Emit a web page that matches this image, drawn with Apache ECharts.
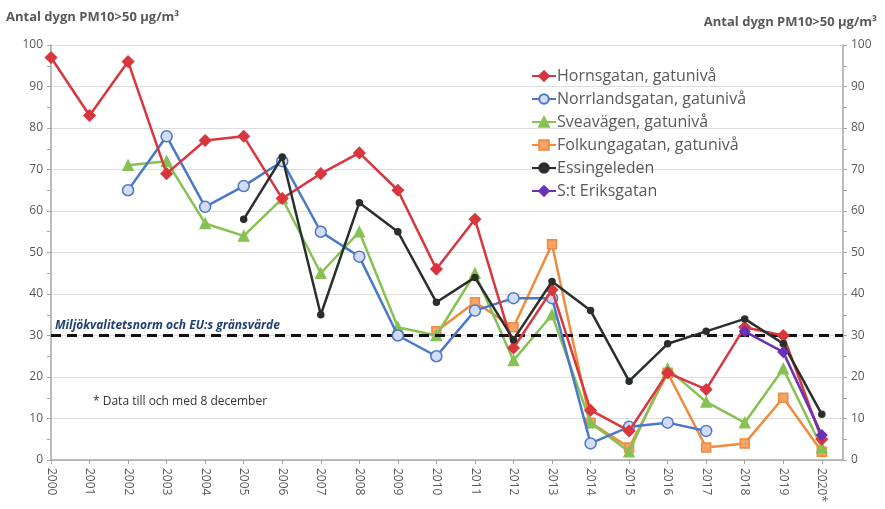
<!DOCTYPE html>
<html>
<head>
    <meta charset="utf-8">
    <title>PM10</title>
    <script src="https://cdn.jsdelivr.net/npm/echarts@6/dist/echarts.min.js"></script>
</head>
<body style="margin:0;background:#fff">
    <div id="main" style="width:885px;height:509px;"></div>
    <script type="text/javascript">
        // år och värden (antal dygn PM10 > 50)
        var years = [2000, 2001, 2002, 2003, 2004, 2005, 2006, 2007, 2008, 2009, 2010,
                     2011, 2012, 2013, 2014, 2015, 2016, 2017, 2018, 2019, 2020];
        var yearLabels = ['2000', '2001', '2002', '2003', '2004', '2005', '2006', '2007', '2008', '2009', '2010',
                          '2011', '2012', '2013', '2014', '2015', '2016', '2017', '2018', '2019', '2020*'];
        var hornsgatan = [97, 83, 96, 69, 77, 78, 63, 69, 74, 65, 46, 58, 27, 41, 12, 7, 21, 17, 32, 30, 5];
        var norrlandsgatan = [null, null, 65, 78, 61, 66, 72, 55, 49, 30, 25, 36, 39, 39, 4, 8, 9, 7, null, null, null];
        var sveavagen = [null, null, 71, 72, 57, 54, 63, 45, 55, 32, 30, 45, 24, 35, 9, 2, 22, 14, 9, 22, 3];
        var folkungagatan = [null, null, null, null, null, null, null, null, null, null, 31, 38, 32, 52, 9, 3, 21, 3, 4, 15, 2];
        var essingeleden = [null, null, null, null, null, 58, 73, 35, 62, 55, 38, 44, 29, 43, 36, 19, 28, 31, 34, 28, 11];
        var stEriksgatan = [null, null, null, null, null, null, null, null, null, null, null, null, null, null, null, null, null, null, 31, 26, 6];
        var grans = 30;

        function pairs(arr) {
            var out = [];
            for (var i = 0; i < years.length; i++) {
                if (arr[i] !== null) out.push([years[i], arr[i]]);
            }
            return out;
        }

        var myChart = echarts.init(document.getElementById('main'));
        var grey = '#595959';
        var yAxisBase = {
            type: 'value', min: 0, max: 100, interval: 10,
            axisLine: { show: true, lineStyle: { color: '#a6a6a6', width: 1.5 } },
            axisTick: { show: true, length: 4, lineStyle: { color: '#a6a6a6' } },
            minorTick: { show: true, splitNumber: 2, length: 4, lineStyle: { color: '#a6a6a6' } },
            axisLabel: { color: grey, fontSize: 12, fontFamily: 'Open Sans' }
        };
        function line(name, data, color, symbol, size, fill, z) {
            return {
                name: name, type: 'line', data: pairs(data), z: z,
                symbol: symbol, symbolSize: size,
                lineStyle: { color: color, width: 2.5 },
                itemStyle: { color: fill, borderColor: color, borderWidth: 1.5 },
                emphasis: { disabled: true }
            };
        }
        var series = [
            line('Hornsgatan, gatunivå', hornsgatan, '#d9363e', 'diamond', 11, '#d9363e', 6),
            line('Norrlandsgatan, gatunivå', norrlandsgatan, '#4a78c8', 'circle', 11, '#d3dcf3', 5),
            line('Sveavägen, gatunivå', sveavagen, '#86c154', 'triangle', 10, '#86c154', 4),
            line('Folkungagatan, gatunivå', folkungagatan, '#f08a3c', 'rect', 9, '#f4a46a', 3),
            line('Essingeleden', essingeleden, '#2b2f2b', 'circle', 6, '#2b2f2b', 7),
            line('S:t Eriksgatan', stEriksgatan, '#6a30b8', 'diamond', 10, '#6a30b8', 8)
        ];
        series[0].markLine = {
            silent: true, symbol: 'none',
            lineStyle: { color: '#111', type: [10, 6], width: 3 },
            label: {
                position: 'insideStartTop', formatter: 'Miljökvalitetsnorm och EU:s gränsvärde',
                color: '#1f3f6e', fontStyle: 'italic', fontWeight: 'bold', fontSize: 12,
                fontFamily: 'Open Sans', distance: [4, 4]
            },
            data: [{ yAxis: grans }]
        };

        myChart.setOption({
            animation: false,
            grid: { left: 51, right: 42, top: 45, bottom: 49 },
            graphic: [
                { type: 'text', left: 6, top: 11, style: { text: 'Antal dygn PM10>50 µg/m³', fill: grey, fontSize: 13, fontWeight: 'bold', fontFamily: 'Open Sans' } },
                { type: 'text', right: 8, top: 16, style: { text: 'Antal dygn PM10>50 µg/m³', fill: grey, fontSize: 13, fontWeight: 'bold', fontFamily: 'Open Sans' } },
                { type: 'text', left: 93, top: 396, style: { text: '* Data till och med 8 december', fill: '#333', fontSize: 12, fontFamily: 'Open Sans' } }
            ],
            legend: {
                orient: 'vertical', left: 526, top: 63, itemGap: 7,
                itemWidth: 24, itemHeight: 12,
                textStyle: { color: grey, fontSize: 16, fontFamily: 'Open Sans', padding: [0, 0, 0, -4] },
                data: series.map(function (s) { return s.name; })
            },
            xAxis: {
                type: 'value', min: 2000, max: 2020.55, interval: 1,
                axisLine: { lineStyle: { color: '#a6a6a6', width: 1.5 } },
                axisTick: { show: true, length: 4, lineStyle: { color: '#a6a6a6' } },
                splitLine: { show: false },
                axisLabel: {
                    rotate: -90, color: grey, fontSize: 12, fontFamily: 'Open Sans', margin: 8,
                    showMaxLabel: false,
                    formatter: function (v) {
                        var i = years.indexOf(v);
                        return i >= 0 ? yearLabels[i] : '';
                    }
                }
            },
            yAxis: [
                Object.assign({}, yAxisBase, { position: 'left', splitLine: { lineStyle: { color: '#dedede' } } }),
                Object.assign({}, yAxisBase, { position: 'right', splitLine: { show: false } })
            ],
            series: series
        });
    </script>
</body>
</html>
